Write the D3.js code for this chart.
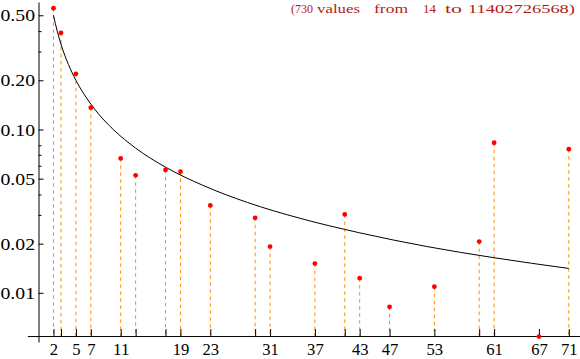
<!DOCTYPE html>
<html><head><meta charset="utf-8">
<script src="https://cdn.jsdelivr.net/npm/d3@7"></script>
<style>html,body{margin:0;padding:0;background:#fff;} svg{display:block;} text{font-family:"Liberation Serif","Times New Roman",Times,serif;}</style>
</head><body>
<svg id="chart" width="580" height="359"></svg>
<script>
// ---- data ----
const primes = [2,3,5,7,11,13,17,19,23,29,31,37,41,43,47,53,59,61,67,71];
const values = [0.552,0.390,0.219,0.136,0.0665,0.0524,0.0565,0.0552,0.0343,0.0288,0.0192,0.0151,0.0302,0.0123,0.00821,0.0109,0.0206,0.0829,0.0054,0.0758];
const xLabels = [2,5,7,11,19,23,31,37,43,47,53,61,67,71];
const yMajorTicks = [0.01,0.02,0.05,0.1,0.2,0.5];
const yMinorTicks = [0.03,0.04,0.06,0.07,0.08,0.3,0.4];
// reference curve
const curveX = [2,2.5,3,4,5,6,8,10,13,17,22,28,35,43,52,61,71];
const curveY = [0.5,0.4,0.333,0.25,0.2,0.167,0.125,0.1,0.0769,0.0588,0.0455,0.0357,0.0286,0.0233,0.0192,0.0164,0.0141];
const titleWords = ["(730","values","from","14","to","11402726568)"];

// ---- layout ----
const titleX = [291,317,374,423,445,468];
const titleW = [22,43,34,0,17,107];
const xAxisAt = 0.0054;
const serif = "\"Liberation Serif\",\"Times New Roman\",Times,serif";

const svg = d3.select("#chart");
const x = d3.scaleLinear().domain([-1.5, 72.5]).range([27.35, 580]);
const y = d3.scaleLog().domain([0.005, 0.603]).range([342, 2]);
const x0 = Math.round(x(0)) - 0.5;
const yAxisY = y(xAxisAt);

// dotted drop lines
svg.append("g").selectAll("line").data(primes).join("line")
  .attr("x1", d => x(d)).attr("x2", d => x(d))
  .attr("y1", (d,i) => y(values[i])).attr("y2", yAxisY)
  .attr("stroke", "#ff8c00").attr("stroke-width", 1)
  .attr("stroke-dasharray", "3.5,3.5");

// axes
const xAxis = d3.axisBottom(x).tickValues(primes)
  .tickSizeInner(-7).tickSizeOuter(0)
  .tickFormat(d => xLabels.includes(d) ? String(d) : "");
const gx = svg.append("g").attr("transform", `translate(0,${yAxisY - 0.5})`).call(xAxis)
  .attr("font-family", serif);
gx.selectAll("text").attr("y", 18.5).attr("dy", 0)
  .attr("text-anchor", "middle")
  .each(function() {
    const t = d3.select(this).text();
    if (t.length) d3.select(this).attr("textLength", 8.3 * t.length).attr("lengthAdjust", "spacingAndGlyphs");
  })
  .style("font-family", serif).style("font-size", "16.5px").attr("fill", "#000");

const yAxis = d3.axisLeft(y).tickValues(yMajorTicks)
  .tickSizeInner(-5).tickSizeOuter(0).tickFormat(d3.format(".2f"));
const gy = svg.append("g").attr("transform", `translate(${x0},0)`).call(yAxis)
  .attr("font-family", serif);
gy.selectAll("text").attr("x", -x0 + 0.5).attr("dy", "0.34em")
  .attr("text-anchor", "start")
  .attr("textLength", 34.5).attr("lengthAdjust", "spacingAndGlyphs")
  .style("font-family", serif).style("font-size", "16.5px").attr("fill", "#000");

const yMinor = d3.axisLeft(y).tickValues(yMinorTicks)
  .tickSizeInner(-3).tickSizeOuter(0).tickFormat("");
const gym = svg.append("g").attr("transform", `translate(${x0},0)`).call(yMinor);
gym.select(".domain").remove();

svg.selectAll(".domain").attr("stroke", "#000").attr("stroke-width", 1);
svg.selectAll(".tick line").attr("stroke", "#000").attr("stroke-width", 1);

// reference curve
const line = d3.line().x(d => x(d[0])).y(d => y(d[1])).curve(d3.curveMonotoneX);
svg.append("path").datum(curveX.map((v,i) => [v, curveY[i]]))
  .attr("d", line).attr("fill", "none").attr("stroke", "#000").attr("stroke-width", 1);

// points
svg.append("g").selectAll("circle").data(primes).join("circle")
  .attr("cx", d => x(d)).attr("cy", (d,i) => y(values[i]))
  .attr("r", 2.4).attr("fill", "#ff0000");

// title
svg.append("g").selectAll("text").data(titleWords).join("text")
  .attr("x", (d,i) => titleX[i]).attr("y", 12.7)
  .each(function(d,i) {
    if (titleW[i]) d3.select(this).attr("textLength", titleW[i]).attr("lengthAdjust", "spacingAndGlyphs");
  })
  .style("font-family", serif).style("font-size", "13px")
  .attr("fill", "#b21a1a").text(d => d);
</script>
</body></html>
